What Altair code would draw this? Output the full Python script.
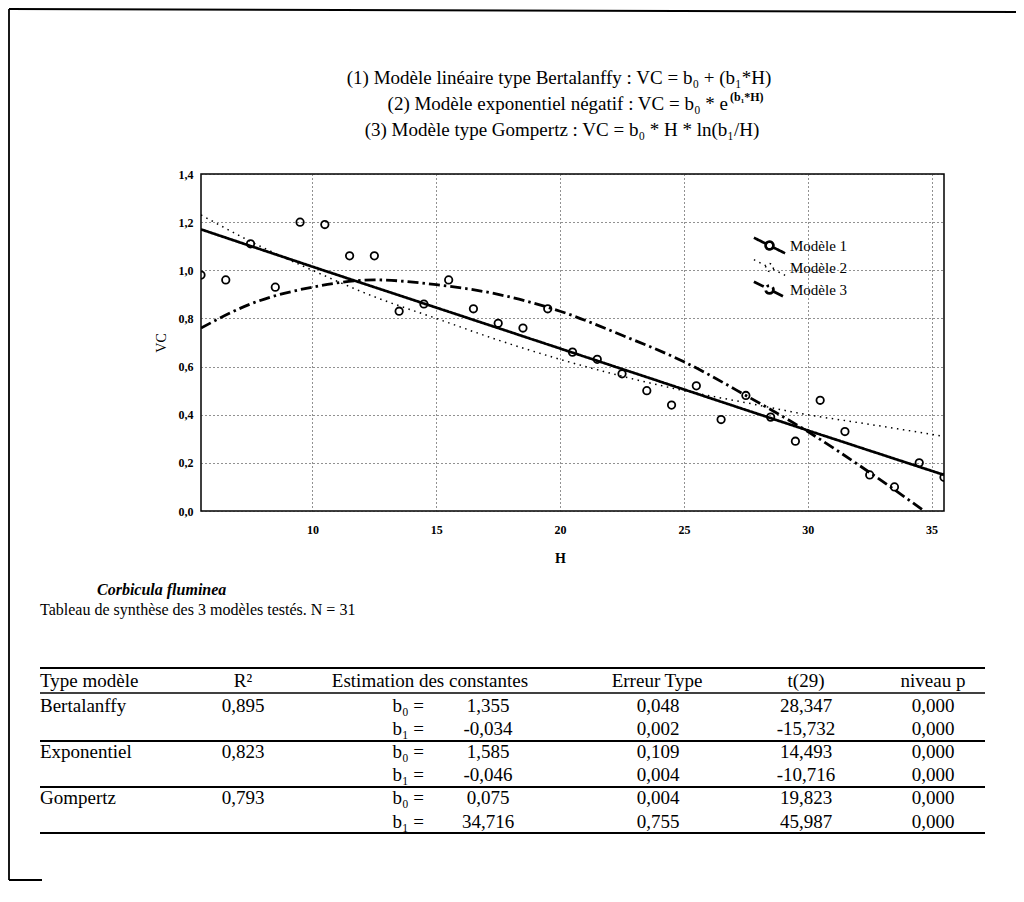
import altair as alt
import pandas as pd

# ---------------- data ----------------
H_obs = [5.5, 6.5, 7.5, 8.5, 9.5, 10.5, 11.5, 12.5, 13.5, 14.5, 15.5, 16.5, 17.5, 18.5, 19.5,
         20.5, 21.5, 22.5, 23.5, 24.5, 25.5, 26.5, 27.5, 28.5, 29.5, 30.5, 31.5, 32.5, 33.5, 34.5, 35.5]
VC_obs = [0.98, 0.96, 1.11, 0.93, 1.20, 1.19, 1.06, 1.06, 0.83, 0.86, 0.96, 0.84, 0.78, 0.76, 0.84,
          0.66, 0.63, 0.57, 0.50, 0.44, 0.52, 0.38, 0.48, 0.39, 0.29, 0.46, 0.33, 0.15, 0.10, 0.20, 0.14]

m1_H = [5.5, 10, 15, 20, 25, 30, 35.5]
m1_VC = [1.17, 1.015, 0.845, 0.675, 0.505, 0.335, 0.15]
m2_H = [5.5, 7.5, 10, 12.5, 15, 17.5, 20, 22.5, 25, 27.5, 30, 32.5, 35.5]
m2_VC = [1.23, 1.12, 1.00, 0.89, 0.80, 0.71, 0.63, 0.56, 0.50, 0.45, 0.40, 0.36, 0.31]
m3_H = [5.5, 7.5, 10, 12.5, 15, 17.5, 20, 22.5, 25, 27.5, 30, 32.5, 34.7]
m3_VC = [0.76, 0.86, 0.93, 0.96, 0.94, 0.90, 0.83, 0.73, 0.62, 0.48, 0.33, 0.16, 0.0]
model_names = ["Modèle 1", "Modèle 2", "Modèle 3"]

x_ticks = [10, 15, 20, 25, 30, 35]
y_ticks = [0.0, 0.2, 0.4, 0.6, 0.8, 1.0, 1.2, 1.4]

title_lines = ["(1) Modèle linéaire type Bertalanffy : VC = b₀ + (b₁*H)",
               "(2) Modèle exponentiel négatif : VC = b₀ * e",
               "(3) Modèle type Gompertz : VC = b₀ * H * ln(b₁/H)"]
title_sup = "(b₁*H)"
species = "Corbicula fluminea"
caption = "Tableau de synthèse des 3 modèles testés. N = 31"

tbl_headers = ["Type modèle", "R²", "Estimation des constantes", "Erreur Type", "t(29)", "niveau p"]
tbl_models = ["Bertalanffy", "Exponentiel", "Gompertz"]
tbl_r2 = ["0,895", "0,823", "0,793"]
tbl_const = ["b₀ =", "b₁ ="]
tbl_est = ["1,355", "-0,034", "1,585", "-0,046", "0,075", "34,716"]
tbl_se = ["0,048", "0,002", "0,109", "0,004", "0,004", "0,755"]
tbl_t = ["28,347", "-15,732", "14,493", "-10,716", "19,823", "45,987"]
tbl_p = ["0,000", "0,000", "0,000", "0,000", "0,000", "0,000"]

# ---------------- layout (page pixels) ----------------
PL, PT, PW, PH = 201, 174, 743, 337
SERIF = "Liberation Serif"
TFS = 19
row_y = [706, 729, 752, 775, 798, 822]
head_y = 681
col_x = {"name": 40, "r2": 243, "const": 424, "est": 488, "se": 658, "t": 806, "p": 933}
head_x = [40, 243, 430, 657, 806, 933]
line_y = [668, 693, 741, 787, 833]

# ---------------- main plot ----------------
obs = pd.DataFrame({"H": H_obs, "VC": VC_obs})
fits = pd.concat([
    pd.DataFrame({"H": m1_H, "VC": m1_VC, "model": model_names[0]}),
    pd.DataFrame({"H": m2_H, "VC": m2_VC, "model": model_names[1]}),
    pd.DataFrame({"H": m3_H, "VC": m3_VC, "model": model_names[2]}),
])

label_expr = "replace(format(datum.value, '.1f'), '.', ',')"
xscale = alt.Scale(domain=[5.5, 35.5], nice=False, zero=False)
yscale = alt.Scale(domain=[0, 1.4], nice=False)
xax = alt.Axis(values=x_ticks, title="H", titleFont=SERIF, titleFontWeight="bold", titleFontSize=14,
               labelFont=SERIF, labelFontWeight="bold", labelFontSize=12, labelPadding=13,
               ticks=False, domain=False, grid=True, gridDash=[1, 3], gridColor="#222",
               titleX=359, titleY=47, titleBaseline="middle")
yax = alt.Axis(values=y_ticks, title="VC", titleFont=SERIF, titleFontWeight="normal", titleFontSize=14,
               labelFont=SERIF, labelFontWeight="bold", labelFontSize=12, labelPadding=8,
               labelExpr=label_expr, ticks=False, domain=False, grid=True, gridDash=[1, 3],
               gridColor="#222", titlePadding=10)

sym = ("M-2.6,-1.3L-0.6,-0.3M0.6,0.3L2.6,1.3"
       "M0.65,0A0.65,0.65,0,1,1,-0.65,0A0.65,0.65,0,1,1,0.65,0")
leg = alt.Legend(title=None, orient="none", legendX=561, legendY=64, symbolType=sym,
                 symbolSize=144, labelFont=SERIF, labelFontSize=15, labelColor="black",
                 labelOffset=13, rowPadding=-3, padding=0, symbolStrokeColor="black")

lines = alt.Chart(fits).mark_line(color="black", clip=True, interpolate="monotone").encode(
    x=alt.X("H:Q", scale=xscale, axis=xax),
    y=alt.Y("VC:Q", scale=yscale, axis=yax),
    strokeDash=alt.StrokeDash("model:N", scale=alt.Scale(domain=model_names,
                              range=[[1, 0], [1.5, 4.5], [11, 4, 2.5, 4]]), legend=leg),
    strokeWidth=alt.StrokeWidth("model:N", scale=alt.Scale(type="ordinal", domain=model_names,
                                                          range=[2.7, 1.5, 2.8]), legend=leg),
    detail="model:N",
)
points = alt.Chart(obs).mark_point(shape="circle", filled=False, color="black", size=55,
                                    strokeWidth=1.8, clip=True, opacity=1).encode(
    x=alt.X("H:Q", scale=xscale),
    y=alt.Y("VC:Q", scale=yscale),
)
plot = alt.layer(lines, points)

# ---------------- page layer (titles, table, frame) ----------------
px_scale = alt.Scale(domain=[0, 1000], range=[-PL, 1000 - PL], nice=False, zero=False)
py_scale = alt.Scale(domain=[0, 1000], range=[-PT, 1000 - PT], nice=False, zero=False)


def txt(df, **kw):
    base = dict(font=SERIF, fontSize=TFS, color="black", baseline="middle")
    base.update(kw)
    return alt.Chart(df).mark_text(**base).encode(
        x=alt.X("px:Q", scale=px_scale, axis=None),
        y=alt.Y("py:Q", scale=py_scale, axis=None),
        text="t:N",
    )


def rules(df, w):
    return alt.Chart(df).mark_rule(color="black", strokeWidth=w).encode(
        x=alt.X("x1:Q", scale=px_scale, axis=None), x2="x2:Q",
        y=alt.Y("y1:Q", scale=py_scale, axis=None), y2="y2:Q",
    )


centre_titles = pd.DataFrame({"px": [559, 562], "py": [78, 130], "t": [title_lines[0], title_lines[2]]})
t2 = pd.DataFrame({"px": [728], "py": [104], "t": [title_lines[1]]})
t2s = pd.DataFrame({"px": [730], "py": [97], "t": [title_sup]})
sp = pd.DataFrame({"px": [97], "py": [590], "t": [species]})
cap = pd.DataFrame({"px": [40], "py": [610], "t": [caption]})

hdr_left = pd.DataFrame({"px": [head_x[0]], "py": [head_y], "t": [tbl_headers[0]]})
hdr_c = pd.DataFrame({"px": head_x[1:], "py": [head_y] * 5, "t": tbl_headers[1:]})

names = pd.DataFrame({"px": [col_x["name"]] * 3, "py": row_y[0::2], "t": tbl_models})
consts = pd.DataFrame({"px": [col_x["const"]] * 6, "py": row_y, "t": tbl_const * 3})
cent_rows = []
for i in range(3):
    cent_rows.append({"px": col_x["r2"], "py": row_y[2 * i], "t": tbl_r2[i]})
for j in range(6):
    cent_rows.append({"px": col_x["est"], "py": row_y[j], "t": tbl_est[j]})
    cent_rows.append({"px": col_x["se"], "py": row_y[j], "t": tbl_se[j]})
    cent_rows.append({"px": col_x["t"], "py": row_y[j], "t": tbl_t[j]})
    cent_rows.append({"px": col_x["p"], "py": row_y[j], "t": tbl_p[j]})
cells = pd.DataFrame(cent_rows)

thick = pd.DataFrame({"x1": [40] * 4, "x2": [985] * 4,
                      "y1": [line_y[0], line_y[2], line_y[3], line_y[4]],
                      "y2": [line_y[0], line_y[2], line_y[3], line_y[4]]})
thin = pd.DataFrame({"x1": [40], "x2": [985], "y1": [line_y[1]], "y2": [line_y[1]]})
frame = pd.DataFrame({"x1": [9, 9, 9], "x2": [1016, 9, 42], "y1": [9, 9, 880], "y2": [12, 880, 880]})

page = alt.layer(
    rules(frame, 1.8), rules(thick, 2.0), rules(thin, 1.5),
    txt(centre_titles, align="center", fontSize=19),
    txt(t2, align="right", fontSize=19),
    txt(t2s, align="left", fontSize=12, fontWeight="bold"),
    txt(sp, align="left", fontWeight="bold", fontStyle="italic", fontSize=16),
    txt(cap, align="left", fontSize=16),
    txt(hdr_left, align="left"), txt(hdr_c, align="center"),
    txt(names, align="left"), txt(consts, align="right"), txt(cells, align="center"),
)

chart = alt.layer(plot, page).resolve_scale(x="independent", y="independent").properties(
    width=PW, height=PH,
    autosize=alt.AutoSizeParams(type="none"),
    padding={"left": PL - 8, "top": PT - 8, "right": 1016 - (PL + PW), "bottom": 885 - (PT + PH)},
    background="white",
).configure_view(stroke="black", strokeWidth=1.5)

chart.save("out.html", embed_options={"renderer": "svg", "actions": False})
